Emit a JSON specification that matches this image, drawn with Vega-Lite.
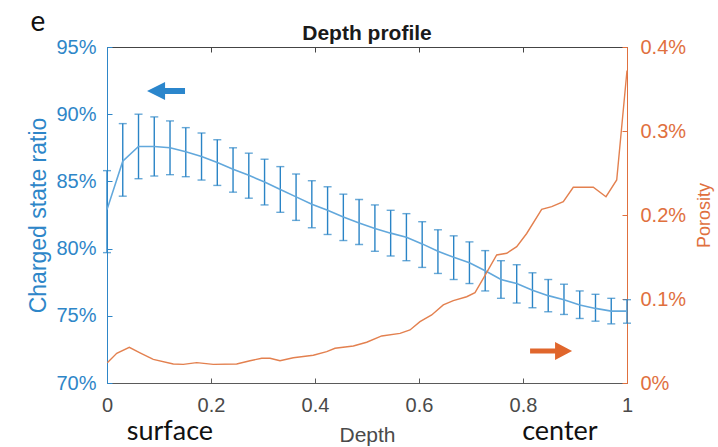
{
  "$schema": "https://vega.github.io/schema/vega-lite/v6.json",
  "width": 520,
  "height": 336,
  "autosize": "none",
  "padding": {"left": 107, "top": 47, "right": 91, "bottom": 64},
  "background": "white",
  "config": {"view": {"stroke": null}, "font": "Liberation Sans"},
  "title": {"text": "Depth profile", "fontSize": 21, "fontWeight": "bold", "color": "#1a1a1a", "font": "Liberation Sans", "offset": 6, "dy": 41, "anchor": "middle"},
  "datasets": {
    "blue": [
      {"d": 0, "m": 82.9, "lo": 79.7, "hi": 85.8},
      {"d": 0.0303, "m": 86.5, "lo": 83.9, "hi": 89.3},
      {"d": 0.0606, "m": 87.6, "lo": 85.2, "hi": 90.0},
      {"d": 0.0909, "m": 87.6, "lo": 85.4, "hi": 89.8},
      {"d": 0.1212, "m": 87.5, "lo": 85.5, "hi": 89.5},
      {"d": 0.1515, "m": 87.2, "lo": 85.35, "hi": 89.0},
      {"d": 0.1818, "m": 86.85, "lo": 85.1, "hi": 88.6},
      {"d": 0.2121, "m": 86.4, "lo": 84.7, "hi": 88.1},
      {"d": 0.2424, "m": 85.9, "lo": 84.2, "hi": 87.5},
      {"d": 0.2727, "m": 85.45, "lo": 83.75, "hi": 87.1},
      {"d": 0.3030, "m": 84.95, "lo": 83.25, "hi": 86.65},
      {"d": 0.3333, "m": 84.4, "lo": 82.7, "hi": 86.1},
      {"d": 0.3636, "m": 83.85, "lo": 82.1, "hi": 85.55},
      {"d": 0.3939, "m": 83.3, "lo": 81.55, "hi": 85.05},
      {"d": 0.4242, "m": 82.85, "lo": 81.05, "hi": 84.6},
      {"d": 0.4545, "m": 82.35, "lo": 80.6, "hi": 84.05},
      {"d": 0.4848, "m": 81.9, "lo": 80.3, "hi": 83.65},
      {"d": 0.5152, "m": 81.5, "lo": 79.8, "hi": 83.25},
      {"d": 0.5455, "m": 81.15, "lo": 79.45, "hi": 82.85},
      {"d": 0.5758, "m": 80.85, "lo": 79.1, "hi": 82.6},
      {"d": 0.6061, "m": 80.35, "lo": 78.6, "hi": 82.0},
      {"d": 0.6364, "m": 79.8, "lo": 78.15, "hi": 81.4},
      {"d": 0.6667, "m": 79.35, "lo": 77.7, "hi": 80.95},
      {"d": 0.6970, "m": 78.95, "lo": 77.4, "hi": 80.5},
      {"d": 0.7273, "m": 78.35, "lo": 76.85, "hi": 79.85},
      {"d": 0.7576, "m": 77.7, "lo": 76.3, "hi": 79.1},
      {"d": 0.7879, "m": 77.4, "lo": 75.95, "hi": 78.8},
      {"d": 0.8182, "m": 76.9, "lo": 75.6, "hi": 78.2},
      {"d": 0.8485, "m": 76.5, "lo": 75.3, "hi": 77.7},
      {"d": 0.8788, "m": 76.2, "lo": 75.1, "hi": 77.35},
      {"d": 0.9091, "m": 75.8, "lo": 74.8, "hi": 76.85},
      {"d": 0.9394, "m": 75.55, "lo": 74.6, "hi": 76.6},
      {"d": 0.9697, "m": 75.35, "lo": 74.4, "hi": 76.3},
      {"d": 1, "m": 75.35, "lo": 74.45, "hi": 76.2}
    ],
    "orange": [
      {"d": 0.0006, "p": 0.0242},
      {"d": 0.0187, "p": 0.0354},
      {"d": 0.0429, "p": 0.0425},
      {"d": 0.0635, "p": 0.036},
      {"d": 0.089, "p": 0.0282},
      {"d": 0.1275, "p": 0.0226},
      {"d": 0.1467, "p": 0.0222},
      {"d": 0.1725, "p": 0.0242},
      {"d": 0.2044, "p": 0.0222},
      {"d": 0.2494, "p": 0.0226},
      {"d": 0.275, "p": 0.0265},
      {"d": 0.2975, "p": 0.0294},
      {"d": 0.3135, "p": 0.0294},
      {"d": 0.3327, "p": 0.0265},
      {"d": 0.3583, "p": 0.0301},
      {"d": 0.3967, "p": 0.033},
      {"d": 0.4225, "p": 0.0373},
      {"d": 0.4385, "p": 0.0413},
      {"d": 0.4737, "p": 0.044},
      {"d": 0.4994, "p": 0.0485},
      {"d": 0.5283, "p": 0.056},
      {"d": 0.5635, "p": 0.0591},
      {"d": 0.5827, "p": 0.0631},
      {"d": 0.6019, "p": 0.073},
      {"d": 0.6244, "p": 0.081},
      {"d": 0.6467, "p": 0.0929},
      {"d": 0.666, "p": 0.098},
      {"d": 0.6917, "p": 0.1027},
      {"d": 0.7077, "p": 0.1075},
      {"d": 0.7237, "p": 0.1246},
      {"d": 0.7494, "p": 0.1524},
      {"d": 0.7687, "p": 0.1544},
      {"d": 0.7879, "p": 0.1623},
      {"d": 0.8071, "p": 0.178},
      {"d": 0.8359, "p": 0.2067},
      {"d": 0.8552, "p": 0.21},
      {"d": 0.8775, "p": 0.2158},
      {"d": 0.8967, "p": 0.233},
      {"d": 0.9352, "p": 0.233},
      {"d": 0.9596, "p": 0.2218},
      {"d": 0.9802, "p": 0.2417},
      {"d": 1, "p": 0.372}
    ],
    "blueArrow": [{"d": 0.1135, "v": 91.73}],
    "orangeArrow": [{"d": 0.854, "p": 0.0381}],
    "panelLabel": [{"d": -0.133, "v": 96.8, "label": "e"}],
    "ends": [
      {"d": 0.121, "v": 66.35, "label": "surface"},
      {"d": 0.871, "v": 66.35, "label": "center"}
    ]
  },
  "layer": [
    {
      "layer": [
        {
          "data": {"name": "blue"},
          "mark": {"type": "errorbar", "color": "#2a84c6", "thickness": 1.4, "ticks": {"size": 8, "color": "#2a84c6", "strokeWidth": 1.4}},
          "encoding": {
            "x": {"field": "d", "type": "quantitative", "scale": {"domain": [0, 1], "nice": false, "zero": false},
              "axis": {"orient": "bottom", "values": [0, 0.2, 0.4, 0.6, 0.8, 1], "labelExpr": "datum.value == 0 ? '0' : datum.value == 1 ? '1' : format(datum.value, '.1f')", "labelFlush": false, "labelFontSize": 20, "labelColor": "#4a4a4a", "labelFont": "Liberation Sans", "domainColor": "#5a5a5a", "tickColor": "#5a5a5a", "tickSize": -5, "labelPadding": 17, "grid": false, "title": "Depth", "titleFontSize": 21, "titleFontWeight": "normal", "titleColor": "#4a4a4a", "titleFont": "Liberation Sans", "titlePadding": 9}},
            "y": {"field": "lo", "type": "quantitative", "title": "Charged state ratio", "scale": {"domain": [70, 95], "nice": false, "zero": false},
              "axis": {"orient": "left", "values": [70, 75, 80, 85, 90, 95], "labelExpr": "datum.value + '%'", "labelFlush": false, "labelFontSize": 20, "labelColor": "#2e86c8", "labelFont": "Liberation Sans", "domainColor": "#2e86c8", "tickColor": "#2e86c8", "tickSize": -5, "labelPadding": 16, "grid": false, "titleFontSize": 23, "titleFontWeight": "normal", "titleColor": "#2e86c8", "titleFont": "Liberation Sans", "titlePadding": 5}},
            "y2": {"field": "hi"}
          }
        },
        {
          "data": {"name": "blue"},
          "mark": {"type": "line", "color": "#62a8dc", "strokeWidth": 1.6},
          "encoding": {
            "x": {"field": "d", "type": "quantitative", "title": "Depth"},
            "y": {"field": "m", "type": "quantitative", "title": "Charged state ratio"}
          }
        },
        {
          "data": {"name": "blueArrow"},
          "mark": {"type": "point", "shape": "M -1 0 L -0.05 -0.47 L -0.05 -0.16 L 1 -0.16 L 1 0.16 L -0.05 0.16 L -0.05 0.47 Z", "filled": true, "opacity": 1, "size": 1444, "color": "#2b86cc", "strokeWidth": 0},
          "encoding": {
            "x": {"field": "d", "type": "quantitative", "title": "Depth"},
            "y": {"field": "v", "type": "quantitative", "title": "Charged state ratio"}
          }
        },
        {
          "data": {"name": "panelLabel"},
          "mark": {"type": "text", "font": "Lato", "fontSize": 28, "color": "#111111", "align": "center", "baseline": "middle"},
          "encoding": {
            "x": {"field": "d", "type": "quantitative", "title": "Depth"},
            "y": {"field": "v", "type": "quantitative", "title": "Charged state ratio"},
            "text": {"field": "label"}
          }
        },
        {
          "data": {"name": "ends"},
          "mark": {"type": "text", "font": "Lato", "fontSize": 27, "color": "#111111", "align": "center", "baseline": "middle"},
          "encoding": {
            "x": {"field": "d", "type": "quantitative", "title": "Depth"},
            "y": {"field": "v", "type": "quantitative", "title": "Charged state ratio"},
            "text": {"field": "label"}
          }
        }
      ]
    },
    {
      "layer": [
        {
          "data": {"name": "orange"},
          "mark": {"type": "line", "color": "#e3804f", "strokeWidth": 1.4},
          "encoding": {
            "x": {"field": "d", "type": "quantitative", "title": null,
              "axis": {"orient": "top", "values": [0, 0.2, 0.4, 0.6, 0.8, 1], "labels": false, "domainColor": "#444444", "tickColor": "#444444", "tickSize": -5, "grid": false, "title": null}},
            "y": {"field": "p", "type": "quantitative", "title": "Porosity", "scale": {"domain": [0, 0.4], "nice": false, "zero": false},
              "axis": {"orient": "right", "values": [0, 0.1, 0.2, 0.3, 0.4], "labelExpr": "datum.value == 0 ? '0%' : format(datum.value, '.1f') + '%'", "labelFlush": false, "labelFontSize": 20, "labelColor": "#e0703e", "labelFont": "Liberation Sans", "domainColor": "#e0703e", "tickColor": "#e0703e", "tickSize": -5, "labelPadding": 18, "grid": false, "titleFontSize": 18, "titleFontWeight": "normal", "titleColor": "#e0703e", "titleFont": "Liberation Sans", "titleAngle": 270, "titleBaseline": "top", "titlePadding": 10}}
          }
        },
        {
          "data": {"name": "orangeArrow"},
          "mark": {"type": "point", "shape": "M 1 0 L 0.19 -0.43 L 0.19 -0.12 L -1 -0.12 L -1 0.12 L 0.19 0.12 L 0.19 0.43 Z", "filled": true, "opacity": 1, "size": 1764, "color": "#e0662c", "strokeWidth": 0},
          "encoding": {
            "x": {"field": "d", "type": "quantitative", "title": null},
            "y": {"field": "p", "type": "quantitative", "title": "Porosity"}
          }
        }
      ]
    }
  ],
  "resolve": {"scale": {"y": "independent"}, "axis": {"y": "independent", "x": "independent"}}
}
